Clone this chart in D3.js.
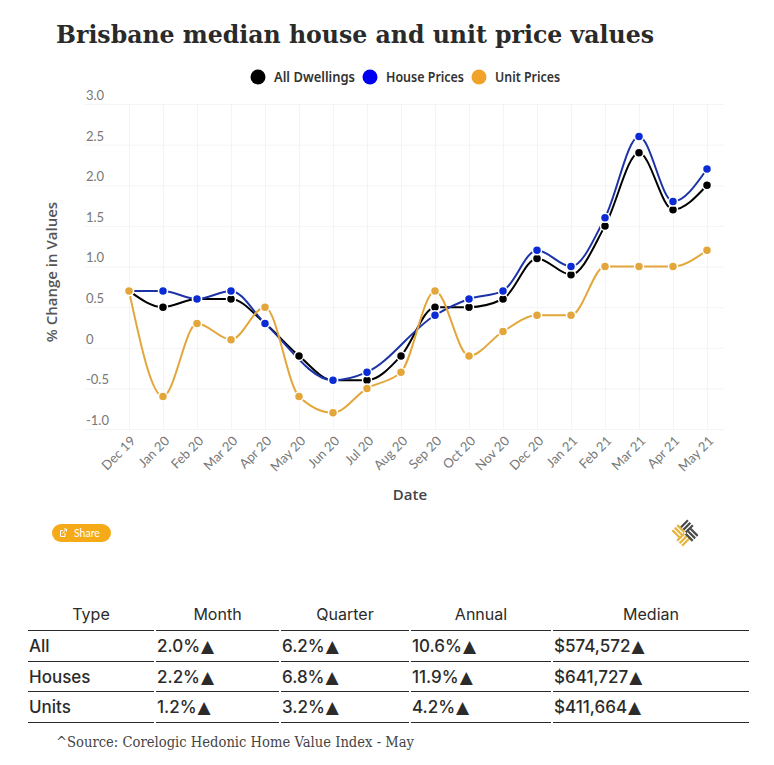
<!DOCTYPE html>
<html lang="en">
<head>
  <meta charset="UTF-8" />
  <title>Brisbane median house and unit price values</title>
  <style>
    html, body { margin: 0; padding: 0; background: #fff; }
    svg { display: block; }
    .title { font-family: "DejaVu Serif", serif; font-weight: bold; font-size: 25px; fill: #2a2a2a; }
    .legend-label { font-family: "Noto Sans", sans-serif; font-size: 14px; font-weight: 600; fill: #333; }
    .axis-label { font-family: "Open Sans", sans-serif; font-size: 15px; font-weight: 600; fill: #555; }
    .date-label { fill: #444; }
    .axis text { font-family: Lato, sans-serif; font-size: 13px; font-weight: 400; fill: #777; }
    .axis path, .axis line { stroke: #f4f4f4; }
    .head { font-family: Inter, sans-serif; font-size: 16px; fill: #2b2b2b; }
    .cell { font-family: Inter, sans-serif; font-size: 17px; font-weight: 500; fill: #2b2b2b; }
    .source { font-family: "DejaVu Serif", serif; font-size: 14px; fill: #444; }
  </style>
  <script src="https://d3js.org/d3.v7.min.js"></script>
</head>
<body>
  <svg id="canvas" width="774" height="765"></svg>

  <script>
    const months = ["Dec 19", "Jan 20", "Feb 20", "Mar 20", "Apr 20", "May 20", "Jun 20", "Jul 20", "Aug 20",
      "Sep 20", "Oct 20", "Nov 20", "Dec 20", "Jan 21", "Feb 21", "Mar 21", "Apr 21", "May 21"];
    const allDwellings = [0.7, 0.5, 0.6, 0.6, 0.3, -0.1, -0.4, -0.4, -0.1, 0.5, 0.5, 0.6, 1.1, 0.9, 1.5, 2.4, 1.7, 2.0];
    const housePrices = [0.7, 0.7, 0.6, 0.7, 0.3, null, -0.4, -0.3, null, 0.4, 0.6, 0.7, 1.2, 1.0, 1.6, 2.6, 1.8, 2.2];
    const unitPrices = [0.7, -0.6, 0.3, 0.1, 0.5, -0.6, -0.8, -0.5, -0.3, 0.7, -0.1, 0.2, 0.4, 0.4, 1.0, 1.0, 1.0, 1.2];
    const yTicks = [-1, -0.5, 0, 0.5, 1, 1.5, 2, 2.5, 3];
    const yTickLabels = ["-1.0", "-0.5", "0", "0.5", "1.0", "1.5", "2.0", "2.5", "3.0"];

    const tableHead = ["Type", "Month", "Quarter", "Annual", "Median"];
    const tableTypes = ["All", "Houses", "Units"];
    const tableMonth = ["2.0%", "2.2%", "1.2%"];
    const tableQuarter = ["6.2%", "6.8%", "3.2%"];
    const tableAnnual = ["10.6%", "11.9%", "4.2%"];
    const tableMedian = ["$574,572", "$641,727", "$411,664"];

    const svg = d3.select("#canvas");
    const x = d3.scalePoint().domain(months).range([129, 707]);
    const y = d3.scaleLinear().domain([-1, 3]).range([429, 104]);

    svg.append("text").attr("class", "title")
      .attr("x", 56).attr("y", 43)
      .attr("textLength", 598).attr("lengthAdjust", "spacingAndGlyphs")
      .text("Brisbane median house and unit price values");

    // grid lines come from the axes themselves
    const xAxis = svg.append("g").attr("class", "axis")
      .attr("transform", "translate(0,429)")
      .call(d3.axisBottom(x).tickSize(-325).tickPadding(6));
    xAxis.select(".domain").remove();
    xAxis.selectAll("text")
      .attr("text-anchor", "end")
      .attr("transform", "translate(-3,3) rotate(-45)")
      .attr("dy", "0.6em");

    const yAxis = svg.append("g").attr("class", "axis")
      .attr("transform", "translate(85,0)")
      .call(d3.axisLeft(y).tickValues(yTicks).tickSize(-639)
        .tickFormat((d, i) => yTickLabels[i]));
    yAxis.select(".domain").remove();
    yAxis.selectAll("text")
      .attr("text-anchor", "start")
      .attr("x", 1)
      .attr("dy", "-0.35em");

    svg.append("text").attr("class", "axis-label")
      .attr("text-anchor", "middle")
      .attr("transform", "translate(57,272) rotate(-90)")
      .text("% Change in Values");
    svg.append("text").attr("class", "axis-label date-label")
      .attr("x", 410).attr("y", 500).attr("text-anchor", "middle")
      .text("Date");

    const series = [
      { name: "All Dwellings", values: allDwellings, line: "#000000", dot: "#000000", key: "#000000" },
      { name: "House Prices", values: housePrices, line: "#1c33a8", dot: "#0a2bd6", key: "#0000f0" },
      { name: "Unit Prices", values: unitPrices, line: "#e3a63a", dot: "#e3a63a", key: "#f0a328" }
    ];

    const line = d3.line()
      .x(d => x(d.m))
      .y(d => y(d.v))
      .curve(d3.curveMonotoneX);

    // skip the missing months so the line runs straight across them
    series.forEach(s => {
      const pts = months.map((m, i) => ({ m, v: s.values[i] })).filter(d => d.v !== null);
      svg.append("path")
        .attr("fill", "none")
        .attr("stroke", s.line)
        .attr("stroke-width", 2)
        .attr("d", line(pts));
      s.pts = pts;
    });
    series.forEach(s => {
      svg.append("g").selectAll("circle").data(s.pts).join("circle")
        .attr("cx", d => x(d.m))
        .attr("cy", d => y(d.v))
        .attr("r", 4.5)
        .attr("fill", s.dot)
        .attr("stroke", "#fff")
        .attr("stroke-width", 1.5);
    });

    // legend
    const legendX = [258, 370, 479];
    const legendW = [81, 78, 65];
    series.forEach((s, i) => {
      svg.append("circle").attr("cx", legendX[i]).attr("cy", 77).attr("r", 7.5).attr("fill", s.key);
      svg.append("text").attr("class", "legend-label")
        .attr("x", legendX[i] + 16).attr("y", 82)
        .attr("textLength", legendW[i]).attr("lengthAdjust", "spacingAndGlyphs")
        .text(s.name);
    });

    // share button
    const share = svg.append("g").attr("transform", "translate(52,524)");
    share.append("rect").attr("width", 59).attr("height", 18).attr("rx", 9).attr("fill", "#f5ab17");
    share.append("path")
      .attr("d", "M13,9v3.5h-4.5v-6h2.5 M10.5,9.5l3.5,-4 M12,5h2.5v2.5")
      .attr("fill", "none").attr("stroke", "#fff").attr("stroke-width", 1);
    share.append("text").attr("x", 22).attr("y", 12.5)
      .attr("font-family", "Lato, sans-serif").attr("font-size", 10.5).attr("fill", "#fff")
      .text("Share");

    // logo mark: dark strokes one way, gold strokes the other
    const logo = svg.append("g").attr("transform", "translate(685,533) rotate(45)");
    [-7, -3.5, 0].forEach(o => {
      logo.append("rect").attr("x", o - 1).attr("y", -11).attr("width", 2.2).attr("height", 10).attr("fill", "#4a4a4a");
      logo.append("rect").attr("x", -o - 1.2).attr("y", 1).attr("width", 2.2).attr("height", 10).attr("fill", "#e6b33c");
    });
    [-7, -3.5, 0].forEach(o => {
      logo.append("rect").attr("x", 1).attr("y", o - 1).attr("width", 10).attr("height", 2.2).attr("fill", "#4a4a4a");
      logo.append("rect").attr("x", -11).attr("y", -o - 1.2).attr("width", 10).attr("height", 2.2).attr("fill", "#e6b33c");
    });

    // table
    const colLeft = [28, 156, 281, 411, 553];
    const colRight = [154, 279, 409, 551, 749];
    const ruleY = [630.5, 661.5, 691.5, 722.5];
    const rowY = [652, 683, 713];
    const columns = [tableTypes, tableMonth, tableQuarter, tableAnnual, tableMedian];

    tableHead.forEach((h, c) => {
      svg.append("text").attr("class", "head")
        .attr("x", (colLeft[c] + colRight[c]) / 2).attr("y", 620)
        .attr("text-anchor", "middle").text(h);
      ruleY.forEach(ry => {
        svg.append("line")
          .attr("x1", colLeft[c]).attr("x2", colRight[c])
          .attr("y1", ry).attr("y2", ry)
          .attr("stroke", "#2b2b2b").attr("stroke-width", 1);
      });
      columns[c].forEach((val, r) => {
        const t = svg.append("text").attr("class", "cell")
          .attr("x", colLeft[c] + 1).attr("y", rowY[r]);
        t.append("tspan").text(val);
        if (c > 0) {
          t.append("tspan").attr("dx", 1).attr("font-family", "DejaVu Sans").attr("font-size", 17).text("▲");
        }
      });
    });

    svg.append("text").attr("class", "source")
      .attr("x", 56).attr("y", 747)
      .attr("textLength", 358).attr("lengthAdjust", "spacingAndGlyphs")
      .text("^Source: Corelogic Hedonic Home Value Index - May");
  </script>
</body>
</html>
